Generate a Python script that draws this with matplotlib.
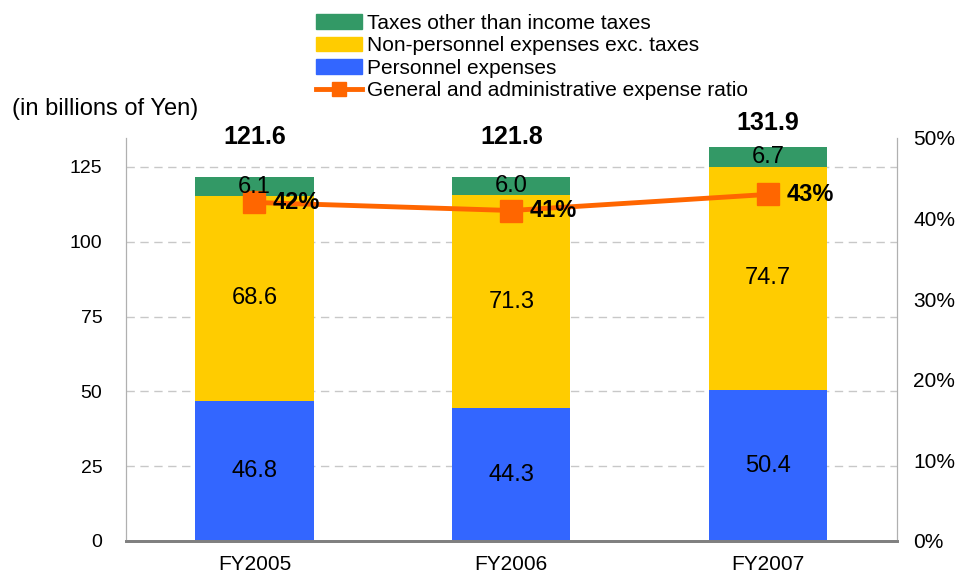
import matplotlib.pyplot as plt
from matplotlib.lines import Line2D
from matplotlib.patches import Patch

plt.rcParams['font.family'] = ['Liberation Sans', 'DejaVu Sans']

anos = ["FY2005", "FY2006", "FY2007"]
pessoal = [46.8, 44.3, 50.4]
nao_pessoal = [68.6, 71.3, 74.7]
impostos = [6.1, 6.0, 6.7]
totais = [121.6, 121.8, 131.9]
razao = [42, 41, 43]  # %

cor_impostos = "#339966"
cor_nao_pessoal = "#FFCC00"
cor_pessoal = "#3366FF"
cor_linha = "#FF6600"

fig = plt.figure(figsize=(9.58, 5.77), dpi=100)
ax = fig.add_axes([0.1315, 0.0624, 0.8045, 0.6985])
ax2 = ax.twinx()

x = range(len(anos))
largura = 0.46
base2 = [p + n for p, n in zip(pessoal, nao_pessoal)]
ax.bar(x, pessoal, largura, color=cor_pessoal, zorder=2)
ax.bar(x, nao_pessoal, largura, bottom=pessoal, color=cor_nao_pessoal, zorder=2)
ax.bar(x, impostos, largura, bottom=base2, color=cor_impostos, zorder=2)

ax.set_xlim(-0.5, 2.5)
ax.set_ylim(0, 134.7)
ax.set_yticks([0, 25, 50, 75, 100, 125])
ax.yaxis.grid(True, color="#C8C8C8", linestyle=(0, (6, 4)), linewidth=1, zorder=0)
ax.set_xticks(list(x))
ax.set_xticklabels(anos)
ax.tick_params(axis="y", length=0, labelsize=14, pad=17)
ax.tick_params(axis="x", length=0, labelsize=15, pad=10)

ax2.plot(x, razao, color=cor_linha, linewidth=3.5, marker="s", markersize=16, zorder=3)
ax2.set_ylim(0, 50)
ax2.set_yticks([0, 10, 20, 30, 40, 50])
ax2.set_yticklabels([f"{v}%" for v in [0, 10, 20, 30, 40, 50]])
ax2.tick_params(axis="y", length=0, labelsize=15, pad=12)

for a in (ax, ax2):
    a.spines["top"].set_visible(False)
    a.spines["left"].set_color("#B0B0B0")
    a.spines["right"].set_color("#B0B0B0")
    a.spines["bottom"].set_color("#808080")
    a.spines["bottom"].set_linewidth(2)

# rótulos dos segmentos (desenhados por cima da linha)
for i in x:
    segs = [(0, pessoal[i]), (pessoal[i], nao_pessoal[i]), (base2[i], impostos[i])]
    for b, v in segs:
        ax2.annotate(f"{v:.1f}", xy=(i, b + v / 2), xycoords=ax.transData,
                     ha="center", va="center", fontsize=17, zorder=5)
    y_total = max(totais[i], 127.2) + 3.8
    ax2.annotate(f"{totais[i]:.1f}", xy=(i, y_total), xycoords=ax.transData,
                 ha="center", va="bottom", fontsize=18, fontweight="bold",
                 annotation_clip=False)
    ax2.annotate(f"{razao[i]}%", xy=(i, razao[i]), xytext=(13, 0),
                 textcoords="offset points", ha="left", va="center",
                 fontsize=17, fontweight="bold", zorder=5)

ax.text(-0.148, 1.045, "(in billions of Yen)", transform=ax.transAxes,
        fontsize=17, ha="left", va="bottom")

handles = [
    Patch(color=cor_impostos),
    Patch(color=cor_nao_pessoal),
    Patch(color=cor_pessoal),
    Line2D([], [], color=cor_linha, linewidth=3.5, marker="s", markersize=10),
]
labels = [
    "Taxes other than income taxes",
    "Non-personnel expenses exc. taxes",
    "Personnel expenses",
    "General and administrative expense ratio",
]
fig.legend(handles, labels, loc="upper left", bbox_to_anchor=(0.33, 0.976),
           frameon=False, fontsize=15, handlelength=2.2, handletextpad=0.25,
           labelspacing=0.17, borderpad=0, borderaxespad=0)

plt.savefig("out.png")
